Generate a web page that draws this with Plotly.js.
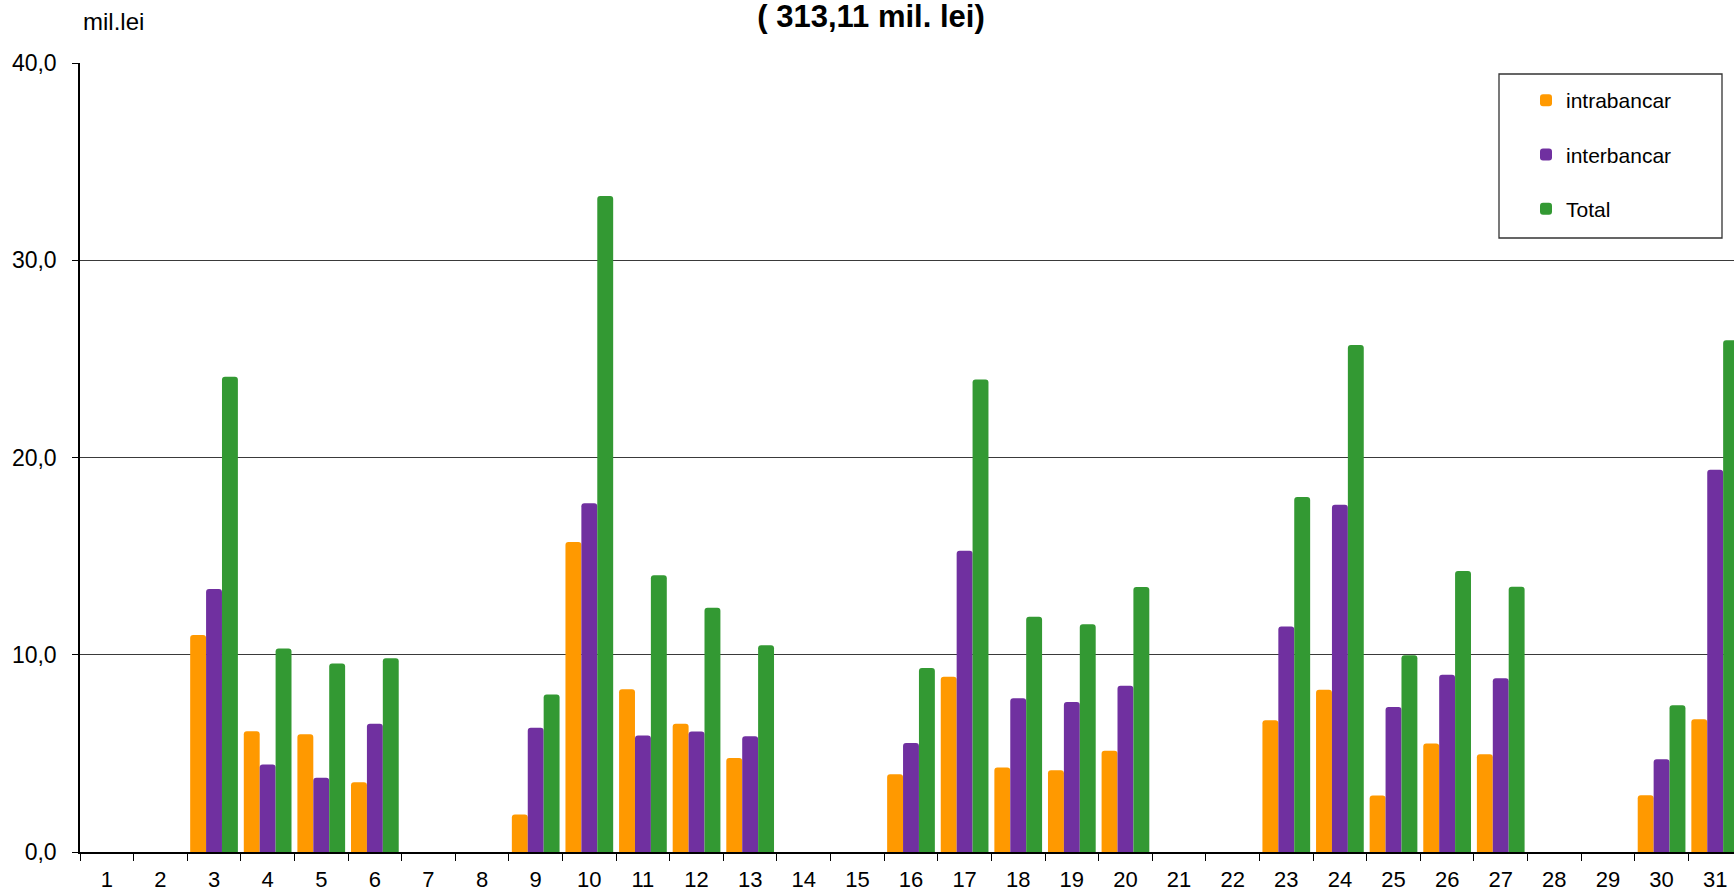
<!DOCTYPE html>
<html>
<head>
<meta charset="utf-8">
<script src="https://cdn.plot.ly/plotly-3.0.1.min.js"></script>
<style>
  html, body { margin: 0; padding: 0; overflow: hidden; background: #fff; }
  #chart { width: 1760px; height: 894px; }
</style>
</head>
<body>
<div id="chart"></div>
<script>
// Days of the month
var days = ["1","2","3","4","5","6","7","8","9","10","11","12","13","14","15","16","17","18","19","20","21","22","23","24","25","26","27","28","29","30","31"];

// Series values (mil. lei)
var intrabancar = [0, 0, 11.0, 6.12, 5.97, 3.53, 0, 0, 1.9, 15.72, 8.25, 6.5, 4.77, 0, 0, 3.94, 8.88, 4.28, 4.15, 5.13, 0, 0, 6.68, 8.23, 2.87, 5.5, 4.96, 0, 0, 2.88, 6.73];
var interbancar = [0, 0, 13.33, 4.43, 3.77, 6.5, 0, 0, 6.3, 17.68, 5.9, 6.11, 5.87, 0, 0, 5.52, 15.27, 7.8, 7.6, 8.43, 0, 0, 11.43, 17.6, 7.35, 8.99, 8.81, 0, 0, 4.7, 19.38];
var total       = [0, 0, 24.1, 10.32, 9.56, 9.82, 0, 0, 7.98, 33.26, 14.03, 12.38, 10.48, 0, 0, 9.33, 23.95, 11.93, 11.55, 13.44, 0, 0, 18.0, 25.7, 9.98, 14.25, 13.45, 0, 0, 7.44, 25.95];

// Axis tick labels
var yTickVals = [0, 10, 20, 30, 40];
var yTickText = ["0,0", "10,0", "20,0", "30,0", "40,0"];

var seriesNames = ["intrabancar", "interbancar", "Total"];
var seriesColors = ["#FF9900", "#7030A0", "#339933"];
var seriesData = [intrabancar, interbancar, total];

var FONT = "Liberation Sans, Arial, Helvetica, sans-serif";

var traces = seriesData.map(function (vals, i) {
  return {
    type: "bar",
    x: days,
    y: vals,
    name: seriesNames[i],
    legendgroup: "g" + i,
    marker: { color: seriesColors[i], cornerradius: 3, line: { width: 0 } },
    hoverinfo: "x+y+name"
  };
});

// Plot area: left 80px, top 63px, width 1662px, height 789px
var layout = {
  width: 1760,
  height: 894,
  margin: { l: 80, r: 18, t: 63, b: 42 },
  paper_bgcolor: "#ffffff",
  plot_bgcolor: "#ffffff",
  barmode: "group",
  bargap: 0.11,
  bargroupgap: 0,
  showlegend: true,
  font: { family: FONT, color: "#000000", size: 22 },
  title: {
    text: "<b>( 313,11 mil. lei)</b>",
    font: { family: FONT, size: 31, color: "#000000" },
    xref: "container",
    x: 871 / 1760,
    xanchor: "center",
    yref: "container",
    y: 1 - 5 / 894,
    yanchor: "top"
  },
  xaxis: {
    type: "category",
    tickson: "boundaries",
    ticks: "outside",
    ticklen: 7,
    tickwidth: 1.3,
    tickcolor: "#000000",
    ticklabelstandoff: 7,
    showline: true,
    linecolor: "#000000",
    linewidth: 1.5,
    showgrid: false,
    zeroline: false,
    tickfont: { family: FONT, size: 22, color: "#000000" },
    fixedrange: true
  },
  yaxis: {
    range: [0, 40],
    tickvals: yTickVals,
    ticktext: yTickText,
    ticks: "outside",
    ticklen: 6,
    tickwidth: 1.3,
    tickcolor: "#000000",
    ticklabelstandoff: 11,
    showline: true,
    linecolor: "#000000",
    linewidth: 1.5,
    showgrid: true,
    gridcolor: "#3a3a3a",
    gridwidth: 1.3,
    zeroline: false,
    tickfont: { family: FONT, size: 23, color: "#000000" },
    fixedrange: true
  },
  legend: {
    x: (1526 - 80) / 1662,
    xanchor: "left",
    y: 1 + (63 - 80) / 789,
    yanchor: "top",
    bgcolor: "rgba(0,0,0,0)",
    borderwidth: 0,
    font: { family: FONT, size: 21, color: "#000000" },
    traceorder: "grouped",
    tracegroupgap: 24
  },
  shapes: [{
    type: "rect",
    xref: "paper", yref: "paper",
    x0: (1499 - 80) / 1662, x1: (1722 - 80) / 1662,
    y0: 1 - (238 - 63) / 789, y1: 1 - (74 - 63) / 789,
    line: { color: "#333333", width: 1.3 },
    fillcolor: "#ffffff",
    layer: "below"
  }],
  annotations: [{
    text: "mil.lei",
    xref: "paper", yref: "paper",
    x: (81 - 80) / 1662, xanchor: "left",
    y: 1 + (63 - 37) / 789, yanchor: "bottom",
    showarrow: false,
    font: { family: FONT, size: 24, color: "#000000" }
  }]
};

Plotly.newPlot("chart", traces, layout, { displayModeBar: false, staticPlot: false, responsive: false });
</script>
</body>
</html>
